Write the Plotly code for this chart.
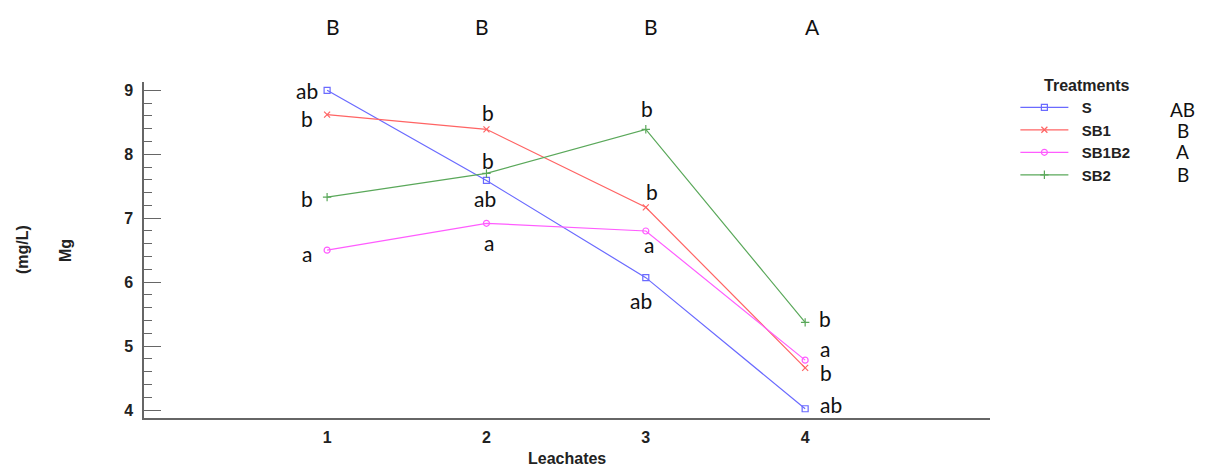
import plotly.graph_objects as go

leachates = [1, 2, 3, 4]
treatments = ["S", "SB1", "SB1B2", "SB2"]
values = {
    "S":     [9.00, 7.59, 6.07, 4.02],
    "SB1":   [8.62, 8.39, 7.17, 4.66],
    "SB1B2": [6.50, 6.92, 6.80, 4.78],
    "SB2":   [7.33, 7.70, 8.39, 5.37],
}
point_letters = {
    "S":     ["ab", "ab", "ab", "ab"],
    "SB1":   ["b", "b", "b", "b"],
    "SB1B2": ["a", "a", "a", "a"],
    "SB2":   ["b", "b", "b", "b"],
}
treatment_groups = ["AB", "B", "A", "B"]
leachate_groups = ["B", "B", "B", "A"]

colors = {"S": "#6a6aff", "SB1": "#ff6464", "SB1B2": "#ff5cff", "SB2": "#5aa85a"}
symbols = {"S": "square-open", "SB1": "x-thin-open", "SB1B2": "circle-open", "SB2": "cross-thin-open"}

# label offsets (pixels) relative to each point
offsets = {
    "S":     [(-20, 0), (-1, -18), (-5, -23), (26, 4)],
    "SB1":   [(-20, -4), (2, 17), (6, 16), (21, -5)],
    "SB1B2": [(-20, -3), (3, -19), (3, -14), (20, 12)],
    "SB2":   [(-20, -1), (2, 13), (1, 21), (20, 4)],
}

fig = go.Figure()
for t in treatments:
    fig.add_trace(go.Scatter(
        x=leachates, y=values[t], name=f"&nbsp;&nbsp;<b>{t}</b>", mode="lines+markers",
        line=dict(color=colors[t], width=1.2),
        marker=dict(symbol=symbols[t], size=6, color=colors[t], line=dict(width=1.2, color=colors[t])),
    ))

letter_font = dict(family="Lato, Open Sans, sans-serif", size=21, color="#111")
annotations = []
for t in treatments:
    for i, xv in enumerate(leachates):
        dx, dy = offsets[t][i]
        annotations.append(dict(x=xv, y=values[t][i], xref="x", yref="y", text=point_letters[t][i],
                                xanchor="center", yanchor="middle",
                                showarrow=False, xshift=dx, yshift=dy, font=letter_font))

top_shift = [6, -4, 5, 7]
for i, xv in enumerate(leachates):
    annotations.append(dict(x=xv, y=1.164, xref="x", yref="paper", text=leachate_groups[i],
                            xanchor="center", yanchor="middle",
                            showarrow=False, xshift=top_shift[i], font=letter_font))

leg_y = [0.9167, 0.857, 0.792, 0.726]
for i, g in enumerate(treatment_groups):
    annotations.append(dict(x=1.228, y=leg_y[i], xref="paper", yref="paper", text=g,
                            xanchor="center", yanchor="middle",
                            showarrow=False, font=dict(family="Lato, Open Sans, sans-serif", size=19, color="#111")))

bold = dict(family="Liberation Sans, Arial, sans-serif", size=16, color="#222")
annotations.append(dict(x=-0.1442, y=0.5, xref="paper", yref="paper", text="<b>(mg/L)</b>",
                        xanchor="center", yanchor="middle",
                        textangle=-90, showarrow=False, font=bold))
annotations.append(dict(x=-0.0934, y=0.5, xref="paper", yref="paper", text="<b>Mg</b>",
                        xanchor="center", yanchor="middle",
                        textangle=-90, showarrow=False, font=bold))
annotations.append(dict(x=0.5, y=-0.122, xref="paper", yref="paper", text="<b>Leachates</b>",
                        xanchor="center", yanchor="middle",
                        showarrow=False, font=bold))

fig.update_layout(
    width=1207, height=468,
    margin=dict(l=136, r=225, t=74, b=58, autoexpand=False),
    plot_bgcolor="white", paper_bgcolor="white",
    showlegend=True,
    legend=dict(
        x=1.03, y=1.035, xanchor="left", yanchor="top",
        title=dict(text="<b>&nbsp;&nbsp;&nbsp;&nbsp;&nbsp;&nbsp;Treatments</b>", side="top",
                   font=dict(family="Liberation Sans, Arial, sans-serif", size=16, color="#222")),
        font=dict(family="Liberation Sans, Arial, sans-serif", size=15, color="#222"),
        itemwidth=48, tracegroupgap=0,
    ),
    annotations=annotations,
    xaxis=dict(
        range=[-0.149, 5.16], tickvals=leachates, ticktext=[f"<b>{v}</b>" for v in leachates],
        showgrid=False, zeroline=False, showline=True, linecolor="#666", linewidth=1.5,
        ticks="", ticklabelstandoff=4,
        tickfont=dict(family="Liberation Sans, Arial, sans-serif", size=16, color="#222"),
    ),
    yaxis=dict(
        range=[3.875, 9.13], tickvals=[4, 5, 6, 7, 8, 9],
        ticktext=[f"<b>{v}</b>" for v in [4, 5, 6, 7, 8, 9]],
        showgrid=False, zeroline=False, showline=True, linecolor="#666", linewidth=1.5,
        ticks="inside", ticklen=17, tickcolor="#666", tickwidth=1.2, ticklabelstandoff=6,
        minor=dict(dtick=0.2, ticks="inside", ticklen=8, tickcolor="#666", tickwidth=1.2, showgrid=False),
        tickfont=dict(family="Liberation Sans, Arial, sans-serif", size=16, color="#222"),
    ),
)

fig.write_html("out.html")
